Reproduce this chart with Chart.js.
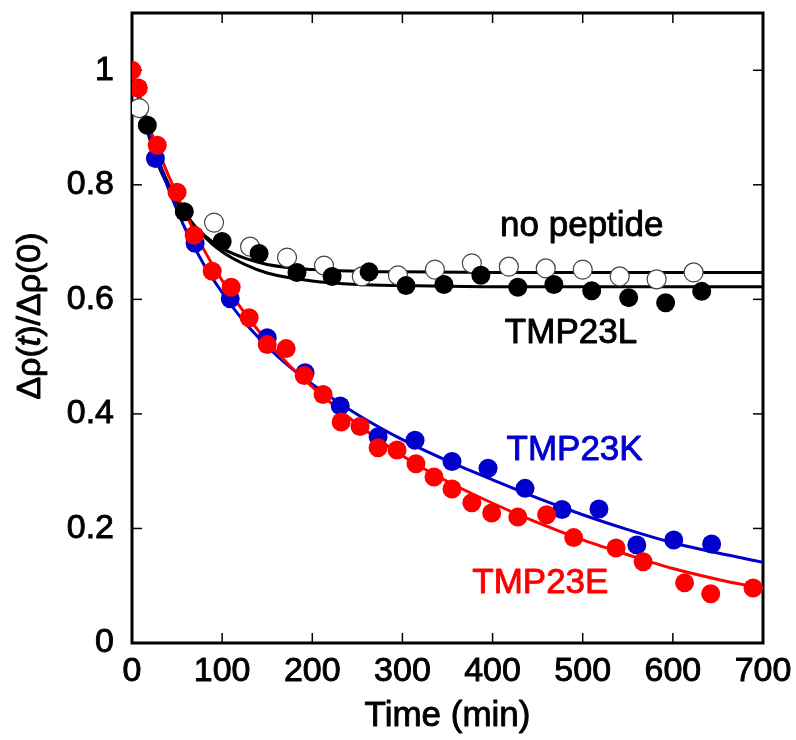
<!DOCTYPE html>
<html>
<head>
<meta charset="utf-8">
<script src="https://cdn.jsdelivr.net/npm/chart.js@4.4.1/dist/chart.umd.min.js"></script>
<style>
html,body{margin:0;padding:0;background:#fff;}
#wrap{width:796px;height:740px;}
</style>
</head>
<body>
<div id="wrap"><canvas id="c" width="796" height="740"></canvas></div>
<script>
// ---- data ----
const xTicks = [0,100,200,300,400,500,600,700];
const yTicks = [0,0.2,0.4,0.6,0.8,1];

// no peptide (open circles)
const noPepT = [8,91,131,172,213,255,295,336,377,418,459,500,541,582,623];
const noPepV = [0.934,0.734,0.692,0.673,0.659,0.640,0.642,0.652,0.663,0.657,0.654,0.652,0.640,0.635,0.647];
// TMP23L (black filled)
const lT = [17,58,100,141,183,222,263,304,346,387,428,468,510,551,592,632];
const lV = [0.904,0.753,0.701,0.680,0.647,0.640,0.648,0.624,0.626,0.642,0.621,0.626,0.615,0.603,0.594,0.614];
// TMP23K (blue)
const kT = [26,70,109,150,192,231,273,314,355,395,436,477,518,560,601,643];
const kV = [0.846,0.698,0.601,0.533,0.472,0.414,0.360,0.354,0.317,0.305,0.270,0.233,0.234,0.171,0.180,0.173];
// TMP23E (red)
const eT = [0,7,28,50,69,89,110,130,150,171,191,212,232,253,273,294,315,335,355,377,399,428,460,490,537,567,613,642,689];
const eV = [1.0,0.969,0.869,0.787,0.712,0.649,0.621,0.568,0.521,0.514,0.467,0.434,0.386,0.378,0.341,0.337,0.313,0.290,0.269,0.245,0.227,0.220,0.224,0.184,0.166,0.142,0.105,0.086,0.096];

// fitted curves
const fitT = [0,10,20,30,40,50,60,80,100,125,150,200,250,300,400,500,600,700];
const fitNoPep = [1.0,0.933,0.878,0.831,0.798,0.768,0.745,0.712,0.689,0.672,0.661,0.652,0.649,0.648,0.647,0.647,0.647,0.647];
const fitL = [1.0,0.937,0.884,0.840,0.803,0.775,0.748,0.710,0.683,0.661,0.646,0.632,0.626,0.624,0.622,0.622,0.622,0.622];
const fit2T = [0,20,40,60,80,100,125,150,175,200,250,300,350,400,450,500,550,600,650,700];
const fitK = [1.0,0.885,0.795,0.720,0.660,0.612,0.560,0.518,0.482,0.452,0.399,0.355,0.318,0.285,0.253,0.224,0.198,0.175,0.157,0.141];
const fitE = [1.0,0.898,0.818,0.748,0.686,0.633,0.576,0.527,0.484,0.447,0.382,0.327,0.282,0.244,0.210,0.180,0.154,0.130,0.111,0.095];

const labels = [
  {text:'no peptide', t:499, v:0.727, color:'#000000'},
  {text:'TMP23L', t:487, v:0.540, color:'#000000'},
  {text:'TMP23K', t:491, v:0.336, color:'#0000cc'},
  {text:'TMP23E', t:453, v:0.105, color:'#ff0000'}
];
const xTitle = 'Time (min)';

const RED = '#ff0000', BLUE = '#0000cc', BLACK = '#000000';
const FONT = '"Liberation Sans", Arial, sans-serif';
const FS = 35;
const TFS = 34;
const SW = 0.9; // stroke width to mimic the heavy glyphs

const pts = (t, v) => t.map((x, i) => ({x: x, y: v[i]}));

function scatter(t, v, color, fill, border, order) {
  return {data: pts(t, v), showLine: false, pointRadius: 9.5, pointHoverRadius: 9.5,
    backgroundColor: fill, borderColor: border, pointBorderWidth: border === fill ? 0 : 1.2, order: order};
}
function curve(t, v, color, order) {
  return {data: pts(t, v), showLine: true, pointRadius: 0, borderColor: color, borderWidth: 3,
    fill: false, cubicInterpolationMode: 'monotone', order: order};
}

function heavyText(ctx, s, x, y, color) {
  ctx.fillStyle = color; ctx.strokeStyle = color; ctx.lineWidth = SW; ctx.lineJoin = 'round';
  ctx.fillText(s, x, y); ctx.strokeText(s, x, y);
}

const framePlugin = {
  id: 'frame',
  beforeDatasetsDraw(chart) {
    const {ctx, chartArea: a, scales: {x, y}} = chart;
    ctx.save();
    ctx.strokeStyle = '#000';
    ctx.lineWidth = 1.5;
    const L = 10;
    xTicks.forEach(t => {
      const px = x.getPixelForValue(t);
      ctx.beginPath(); ctx.moveTo(px, a.bottom); ctx.lineTo(px, a.bottom - L); ctx.stroke();
      ctx.beginPath(); ctx.moveTo(px, a.top); ctx.lineTo(px, a.top + L); ctx.stroke();
    });
    yTicks.forEach(v => {
      const py = y.getPixelForValue(v);
      ctx.beginPath(); ctx.moveTo(a.left, py); ctx.lineTo(a.left + L, py); ctx.stroke();
      ctx.beginPath(); ctx.moveTo(a.right, py); ctx.lineTo(a.right - L, py); ctx.stroke();
    });
    ctx.lineWidth = 3;
    ctx.strokeRect(a.left, a.top, a.right - a.left, a.bottom - a.top);
    ctx.restore();
  },
  afterDatasetsDraw(chart) {
    const {ctx, chartArea: a, scales: {x, y}} = chart;
    ctx.save();
    ctx.textAlign = 'center';
    ctx.textBaseline = 'middle';
    ctx.font = FS + 'px ' + FONT;
    labels.forEach(l => heavyText(ctx, l.text, x.getPixelForValue(l.t), y.getPixelForValue(l.v), l.color));
    // x-axis title
    heavyText(ctx, xTitle, (a.left + a.right) / 2, 716, '#000');
    // y-axis title with italic t
    const parts = [['Δρ(', 'normal'], ['t', 'italic'], [')/Δρ(0)', 'normal']];
    let total = 0;
    parts.forEach(p => { ctx.font = p[1] + ' ' + TFS + 'px ' + FONT; total += ctx.measureText(p[0]).width; });
    ctx.translate(31, 316);
    ctx.rotate(-Math.PI / 2);
    ctx.textAlign = 'left';
    let cx = -total / 2;
    parts.forEach(p => { ctx.font = p[1] + ' ' + TFS + 'px ' + FONT; heavyText(ctx, p[0], cx, 0, '#000'); cx += ctx.measureText(p[0]).width; });
    ctx.restore();
  }
};

new Chart(document.getElementById('c'), {
  type: 'scatter',
  data: {
    datasets: [
      scatter(eT, eV, RED, RED, RED, 0),
      scatter(kT, kV, BLUE, BLUE, BLUE, 1),
      scatter(lT, lV, BLACK, BLACK, BLACK, 2),
      scatter(noPepT, noPepV, BLACK, '#ffffff', '#444444', 3),
      curve(fit2T, fitE, RED, 4),
      curve(fit2T, fitK, BLUE, 5),
      curve(fitT, fitNoPep, BLACK, 6),
      curve(fitT, fitL, BLACK, 7)
    ]
  },
  options: {
    responsive: false,
    animation: false,
    events: [],
    layout: {padding: {left: 0, top: 13, right: 33, bottom: 0}},
    plugins: {legend: {display: false}, tooltip: {enabled: false}},
    scales: {
      x: {
        type: 'linear', min: 0, max: 700,
        grid: {display: false, drawTicks: false},
        border: {display: false},
        afterBuildTicks: s => { s.ticks = xTicks.map(v => ({value: v})); },
        afterFit: s => { s.height = 97; s.paddingLeft = 0; s.paddingRight = 0; },
        ticks: {color: '#000', font: {family: FONT, size: TFS}, padding: 8, maxRotation: 0,
          textStrokeColor: '#000', textStrokeWidth: SW,
          callback: v => String(v)}
      },
      y: {
        type: 'linear', min: 0, max: 1.1,
        grid: {display: false, drawTicks: false},
        border: {display: false},
        afterBuildTicks: s => { s.ticks = yTicks.map(v => ({value: v})); },
        afterFit: s => { s.width = 132; s.paddingTop = 0; s.paddingBottom = 0; },
        ticks: {color: '#000', font: {family: FONT, size: TFS}, padding: 18,
          textStrokeColor: '#000', textStrokeWidth: SW,
          callback: v => String(v)}
      }
    }
  },
  plugins: [framePlugin]
});
</script>
</body>
</html>
